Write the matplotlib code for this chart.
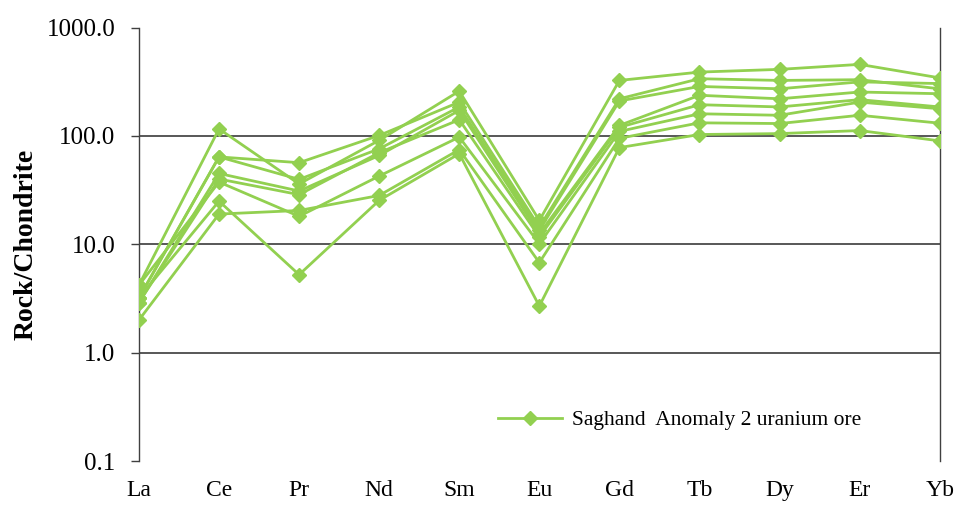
import matplotlib
matplotlib.use("Agg")
import matplotlib.pyplot as plt
from matplotlib.ticker import FixedLocator, FixedFormatter, NullLocator

elements = ["La", "Ce", "Pr", "Nd", "Sm", "Eu", "Gd", "Tb", "Dy", "Er", "Yb"]

s1 = [4.2, 116, 36.0, 91, 259, 16.6, 325, 388, 411, 457, 343]
s2 = [3.2, 64, 56.6, 101, 205, 14.4, 220, 337, 325, 330, 272]
s3 = [3.2, 64, 39.7, 76, 185, 13.5, 210, 286, 272, 315, 304]
s4 = [2.9, 45, 31.0, 66, 172, 12.5, 125, 237, 220, 254, 245]
s5 = [2.9, 40, 28.7, 70, 141, 11.7, 120, 194, 185, 216, 185]
s6 = [4.2, 37.5, 18.1, 42.6, 97.5, 10.1, 110, 160, 155, 205, 178]
s7 = [2.0, 19, 20.5, 28.2, 74.7, 6.77, 95, 132, 130, 155, 131]
s8 = [3.2, 25, 5.24, 25.4, 68.5, 2.69, 78, 103, 105, 112, 90]
series = [s1, s2, s3, s4, s5, s6, s7, s8]

yticks = [0.1, 1, 10, 100, 1000]
ytick_labels = ["0.1", "1.0", "10.0", "100.0", "1000.0"]
legend_label = "Saghand  Anomaly 2 uranium ore"

color = "#92D050"
plt.rcParams["font.family"] = ["Liberation Serif", "DejaVu Serif"]

fig = plt.figure(figsize=(9.55, 5.05), dpi=100)
ax = fig.add_axes([0.1455, 0.0871, 0.8385, 0.8584])

x = list(range(len(elements)))
for i, s in enumerate(series):
    ax.plot(x, s, color=color, lw=2.0, marker="D", ms=7, mec=color, mfc=color,
            label=legend_label if i == 0 else None, zorder=3)

ax.set_yscale("log")
ax.set_ylim(0.1, 1000)
ax.set_xlim(0, len(elements) - 1)
ax.yaxis.set_major_locator(FixedLocator(yticks))
ax.yaxis.set_major_formatter(FixedFormatter(ytick_labels))
ax.yaxis.set_minor_locator(NullLocator())
ax.set_xticks(x)
ax.set_xticklabels(elements)

for v in [1, 10, 100]:
    ax.axhline(v, color="#4a4a4a", lw=1.3, zorder=1)

ax.spines["top"].set_visible(False)
ax.spines["bottom"].set_visible(False)
ax.spines["left"].set_color("#404040")
ax.spines["right"].set_color("#404040")
ax.spines["left"].set_linewidth(1.0)
ax.spines["right"].set_linewidth(1.0)

ax.tick_params(axis="y", direction="out", length=6, width=1, color="#404040",
               labelsize=18, pad=11)
ax.tick_params(axis="x", length=0, labelsize=17, pad=14)

ax.set_ylabel("Rock/Chondrite", fontsize=20, fontweight="bold", labelpad=6)

ax.legend(loc="upper left", bbox_to_anchor=(0.424, 0.162), frameon=False,
          fontsize=15.5, handlelength=3.0, handletextpad=0.45)

fig.savefig("out.png", dpi=100)
